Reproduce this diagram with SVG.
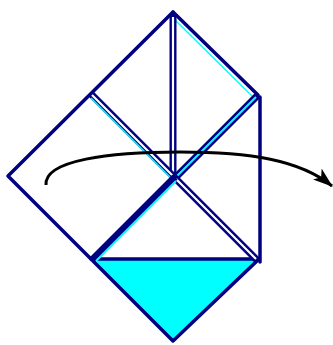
<svg xmlns="http://www.w3.org/2000/svg" width="333" height="345" viewBox="0 0 333 345">
  <defs>
    <style>
      .edge { stroke: #000080; stroke-width: 3.5; fill: none; stroke-linecap: round; stroke-linejoin: round; }
      .dbl { stroke: #000080; stroke-width: 7; fill: none; }
      .gap { stroke: #ffffff; stroke-width: 2.2; fill: none; }
      .cy { stroke: #00ffff; stroke-width: 2.2; fill: none; }
      .cythin { stroke: #00ffff; stroke-width: 1.5; fill: none; }
      .arrow { stroke: #000000; stroke-width: 3; fill: none; }
    </style>
    <marker id="head" viewBox="0 0 20 14" refX="19" refY="7" markerWidth="20" markerHeight="14" markerUnits="userSpaceOnUse" orient="auto">
      <path d="M0,0 L20,7 L0,14 L5,7 Z" fill="#000000"/>
    </marker>
  </defs>

  <!-- lower flap, coloured side showing -->
  <g id="lower-flap">
    <polygon points="92,260 258,260 173,341" fill="#00ffff"/>
  </g>

  <!-- outer edges of the paper -->
  <g id="outline">
    <path class="edge" d="M173,12 L8,176 L173,341 L258,260"/>
    <path class="edge" d="M173,12 L258,95"/>
    <path class="cythin" d="M172,17 L254,98"/>
    <path class="edge" d="M91,259 L259,259"/>
    <path class="edge" d="M260,97 L260,262"/>
  </g>

  <!-- folded layers meeting at the centre -->
  <g id="folds">
    <!-- vertical centre fold -->
    <path class="dbl" d="M173,14 L173,178"/>
    <path class="gap" d="M173,17 L173,176"/>
    <!-- upper-left flap edge -->
    <path class="dbl" d="M90,93 L175,178"/>
    <path class="gap" d="M92,95 L174,177"/>
    <path class="cythin" d="M91,98 L172,179"/>
    <!-- upper-right flap edge -->
    <path class="dbl" d="M258,95 L174,179"/>
    <path class="cy" d="M256,97 L175,178"/>
    <!-- lower-right flap edge -->
    <path class="dbl" d="M174,177 L258,261"/>
    <path class="gap" d="M176,179 L256,259"/>
    <!-- lower-left flap edge -->
    <path class="dbl" d="M175,177 L92,260"/>
    <path class="cy" d="M176,181 L96,261"/>
  </g>

  <!-- turn-over arrow -->
  <g id="turn-arrow">
    <path class="arrow" d="M46,185 C44,160 110,152 180,152 C250,152 300,160 332,186" marker-end="url(#head)"/>
  </g>
</svg>
